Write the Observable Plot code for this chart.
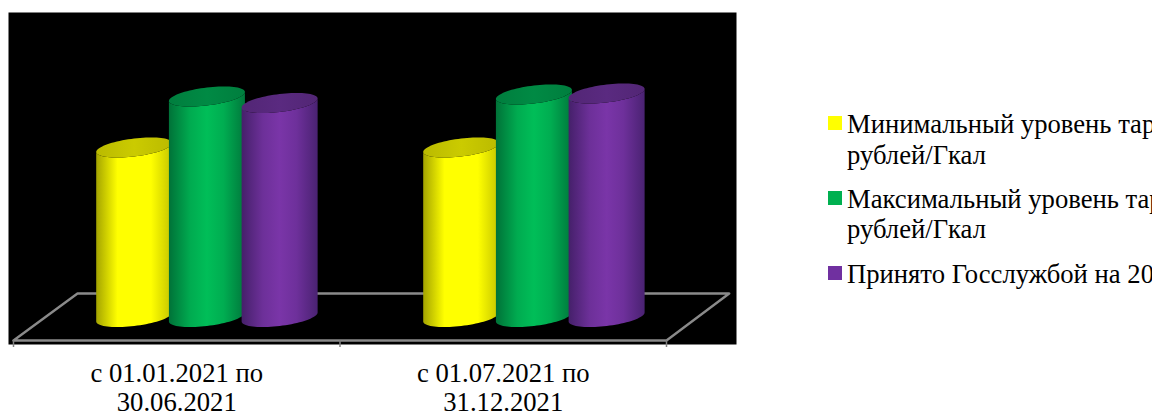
<!DOCTYPE html>
<html lang="ru">
<head>
<meta charset="utf-8">
<script src="https://cdn.jsdelivr.net/npm/d3@7"></script>
<script src="https://cdn.jsdelivr.net/npm/@observablehq/plot@0.6"></script>
<style>
html,body{margin:0;padding:0;background:#fff;overflow:hidden;width:1152px;height:412px}
#chart{position:relative;width:1152px;height:412px;overflow:hidden;font-family:"Liberation Serif",serif;color:#000}
#chart svg{position:absolute;left:0;top:0;overflow:visible}
.item{position:absolute;left:828px;white-space:nowrap;font-size:26.67px;line-height:30.5px;padding-left:19px}
.sw{position:absolute;left:0;top:7px;width:13.5px;height:14px}
</style>
</head>
<body>
<div id="chart"></div>
<script>
const categories = ["с 01.01.2021 по\n30.06.2021", "с 01.07.2021 по\n31.12.2021"];
const seriesNames = [
  "Минимальный уровень тарифа,\nрублей/Гкал",
  "Максимальный уровень тарифа,\nрублей/Гкал",
  "Принято Госслужбой на 2021 год"
];
const minLevel = [1695, 1695];
const maxLevel = [2205, 2225];
const accepted = [2140, 2235];
const seriesValues = [minLevel, maxLevel, accepted];
const colors = ["#FFFF00", "#00B050", "#7030A0"];
const edgeLeft = ["#a4a400", "#007238", "#45206a"];
const edgeRight = ["#c4c400", "#00783c", "#4a2272"];
const mids = ["#FFFF00", "#00BE58", "#7A35A8"];
const caps = ["#cbcb00", "#008a44", "#5a2a80"];

const pxX = 326.5, pxY = 0.1;           // scale units per px
const hw = 38, tilt = 4.5, minor = 9;   // cylinder cross-section, px

function ellipse(cx, value, from, to, n = 40) {
  return d3.range(n + 1).map(i => {
    const t = from + (to - from) * i / n;
    const px = Math.cos(t) * hw;
    const py = -Math.cos(t) * tilt + Math.sin(t) * minor;
    return {x: cx + px / pxX, y: value - py / pxY};
  });
}

const marks = [Plot.frame({fill: "black", stroke: "none"})];

// gradients
const defs = d3.create("svg:defs");
colors.forEach((c, s) => {
  const b = defs.append("linearGradient").attr("id", "body" + s);
  [[0, edgeLeft[s]], [0.28, s === 0 ? mids[s] : d3.interpolateRgb(edgeLeft[s], mids[s])(0.75)], [0.5, mids[s]],
   [0.72, s === 0 ? mids[s] : d3.interpolateRgb(edgeRight[s], mids[s])(0.75)], [1, edgeRight[s]]]
    .forEach(([o, col]) => b.append("stop").attr("offset", o).attr("stop-color", col));
  const g = defs.append("linearGradient").attr("id", "cap" + s);
  [[0, d3.color(caps[s]).darker(0.25)], [0.5, caps[s]], [1, d3.color(caps[s]).darker(0.25)]]
    .forEach(([o, col]) => g.append("stop").attr("offset", o).attr("stop-color", col));
});
marks.push(() => defs.node());

// floor
const floorFront = -235, floorBack = 235, skew = 64 / pxX;
const floor = [
  {x: 0, y: floorFront}, {x: 2, y: floorFront},
  {x: 2 + skew - 0.004, y: floorBack}, {x: skew, y: floorBack}, {x: 0, y: floorFront}
];
marks.push(Plot.line(floor, {x: "x", y: "y", stroke: "#8a8a8a", strokeWidth: 2.4}));
marks.push(Plot.ruleX([0, 1, 2], {y1: floorFront, y2: -305, stroke: "#808080", strokeWidth: 1.5}));

// cylinders
categories.forEach((_, c) => {
  seriesValues.forEach((vals, s) => {
    const cx = c + 0.3697 + s * 0.2227 + (c ? 0.0015 : 0);
    const v = vals[c];
    const body = [
      ...ellipse(cx, v, Math.PI, 0),   // top rim, lower side
      ...ellipse(cx, 0, 0, Math.PI)    // bottom rim, lower side
    ];
    marks.push(Plot.line(body, {x: "x", y: "y", stroke: "none", fill: `url(#body${s})`, curve: "linear"}));
    const cap = ellipse(cx, v, 0, 2 * Math.PI, 80);
    marks.push(Plot.line(cap, {x: "x", y: "y", stroke: "none", fill: `url(#cap${s})`, curve: "linear"}));
  });
});

// category labels
marks.push(Plot.text(categories, {
  x: (d, i) => i + 0.5,
  y: -700,
  text: d => d,
  fontSize: 26.67,
  lineHeight: 1.09,
  textAnchor: "middle",
  fontFamily: "Liberation Serif",
  fill: "#000"
}));

const plot = Plot.plot({
  width: 1152,
  height: 412,
  marginLeft: 8,
  marginRight: 416,
  marginTop: 12,
  marginBottom: 68,
  style: {background: "transparent", overflow: "visible"},
  x: {type: "linear", domain: [-5 / pxX, 723 / pxX], axis: null},
  y: {type: "linear", domain: [-275, 3045], axis: null},
  marks
});
const host = document.getElementById("chart");
host.appendChild(plot);

// legend
const tops = [109, 183.5, 258.5];
seriesNames.forEach((name, i) => {
  const d = document.createElement("div");
  d.className = "item";
  d.style.top = tops[i] + "px";
  const sw = document.createElement("span");
  sw.className = "sw";
  sw.style.background = colors[i];
  d.appendChild(sw);
  name.split("\n").forEach((line, j) => {
    if (j) d.appendChild(document.createElement("br"));
    d.appendChild(document.createTextNode(line));
  });
  host.appendChild(d);
});
</script>
</body>
</html>
